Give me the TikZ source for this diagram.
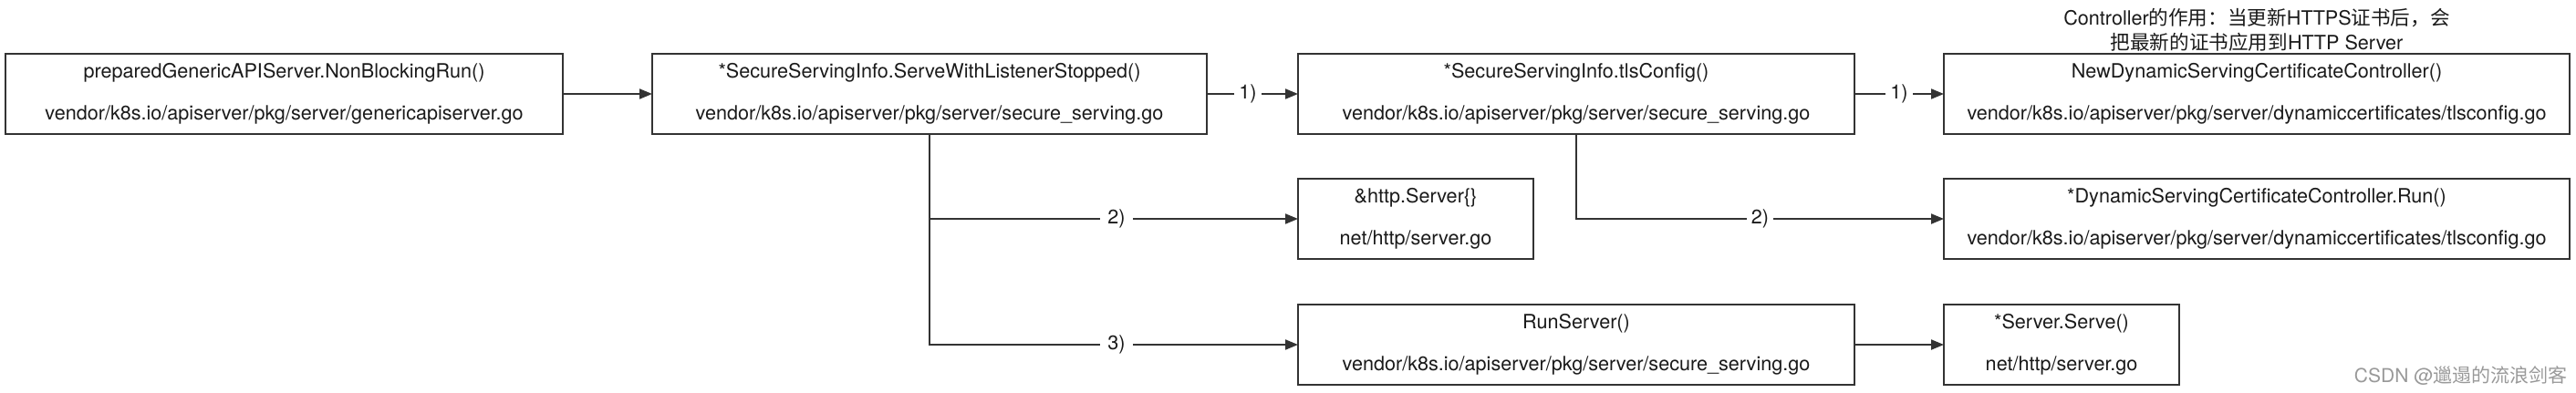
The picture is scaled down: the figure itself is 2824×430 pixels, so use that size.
\documentclass[tikz,border=0pt]{standalone}
\usepackage{fontspec}
\setmainfont{TeX Gyre Heros}
\newfontfamily\cjk{Noto Sans CJK SC}
\usetikzlibrary{arrows.meta}
\definecolor{linec}{HTML}{333333}
\definecolor{txtc}{HTML}{1A1A1A}
\begin{document}
\begin{tikzpicture}[x=0.5pt,y=-0.5pt,
  box/.style={draw=linec, line width=1pt, rectangle, inner sep=0pt, outer sep=0pt,
    align=center, text=txtc, font=\fontsize{10.8}{13}\selectfont, minimum height=44pt},
  conn/.style={draw=linec, line width=1pt},
  arr/.style={conn, -{Triangle[length=7pt,width=5.5pt]}},
  lbl/.style={fill=white, inner xsep=2.5pt, inner ysep=1pt, text=txtc, font=\fontsize{10.8}{13}\selectfont}]
\useasboundingbox (0,0) rectangle (2824,430);
% boxes
\node[box, minimum width=305.5pt] (A) at (311.5,103) {preparedGenericAPIServer.NonBlockingRun()\\[10pt]vendor/k8s.io/apiserver/pkg/server/genericapiserver.go};
\node[box, minimum width=304pt] (B) at (1019,103) {*SecureServingInfo.ServeWithListenerStopped()\\[10pt]vendor/k8s.io/apiserver/pkg/server/secure\_serving.go};
\node[box, minimum width=305pt] (C) at (1728,103) {*SecureServingInfo.tlsConfig()\\[10pt]vendor/k8s.io/apiserver/pkg/server/secure\_serving.go};
\node[box, minimum width=343pt] (D) at (2474,103) {NewDynamicServingCertificateController()\\[10pt]vendor/k8s.io/apiserver/pkg/server/dynamiccertificates/tlsconfig.go};
\node[box, minimum width=129pt] (E) at (1552,240) {\&http.Server\{\}\\[10pt]net/http/server.go};
\node[box, minimum width=343pt] (F) at (2474,240) {*DynamicServingCertificateController.Run()\\[10pt]vendor/k8s.io/apiserver/pkg/server/dynamiccertificates/tlsconfig.go};
\node[box, minimum width=305pt] (G) at (1728,378) {RunServer()\\[10pt]vendor/k8s.io/apiserver/pkg/server/secure\_serving.go};
\node[box, minimum width=129pt] (H) at (2260,378) {*Server.Serve()\\[10pt]net/http/server.go};
% annotation
\node[align=center, text=txtc, font=\fontsize{10.8}{13.5}\selectfont] (note) at (2474,33)
  {Controller{\cjk 的作用：当更新}HTTPS{\cjk 证书后，会}\\{\cjk 把最新的证书应用到}HTTP Server};
% connectors
\draw[arr] (A.east) -- (B.west);
\draw[arr] (B.east) -- (C.west) node[lbl, pos=0.45] (l1) {1)};
\draw[arr] (C.east) -- (D.west) node[lbl, pos=0.5] (l2) {1)};
\draw[arr] (B.south) |- (E.west);
\draw[arr] (B.south) |- (G.west);
\draw[arr] (C.south) |- (F.west) node[lbl, pos=0.75] (l4) {2)};
\draw[arr] (G.east) -- (H.west);
\node[lbl, inner xsep=4pt] (l3) at (1224,240) {2)};
\node[lbl, inner xsep=4pt] (l5) at (1224,378) {3)};
% watermark
\node[anchor=east, text=black!40, font=\fontsize{10.5}{12}\selectfont, inner sep=0pt] (wm) at (2815,412) {CSDN @{\cjk 邋遢的流浪剑客}};
\end{tikzpicture}
\end{document}
